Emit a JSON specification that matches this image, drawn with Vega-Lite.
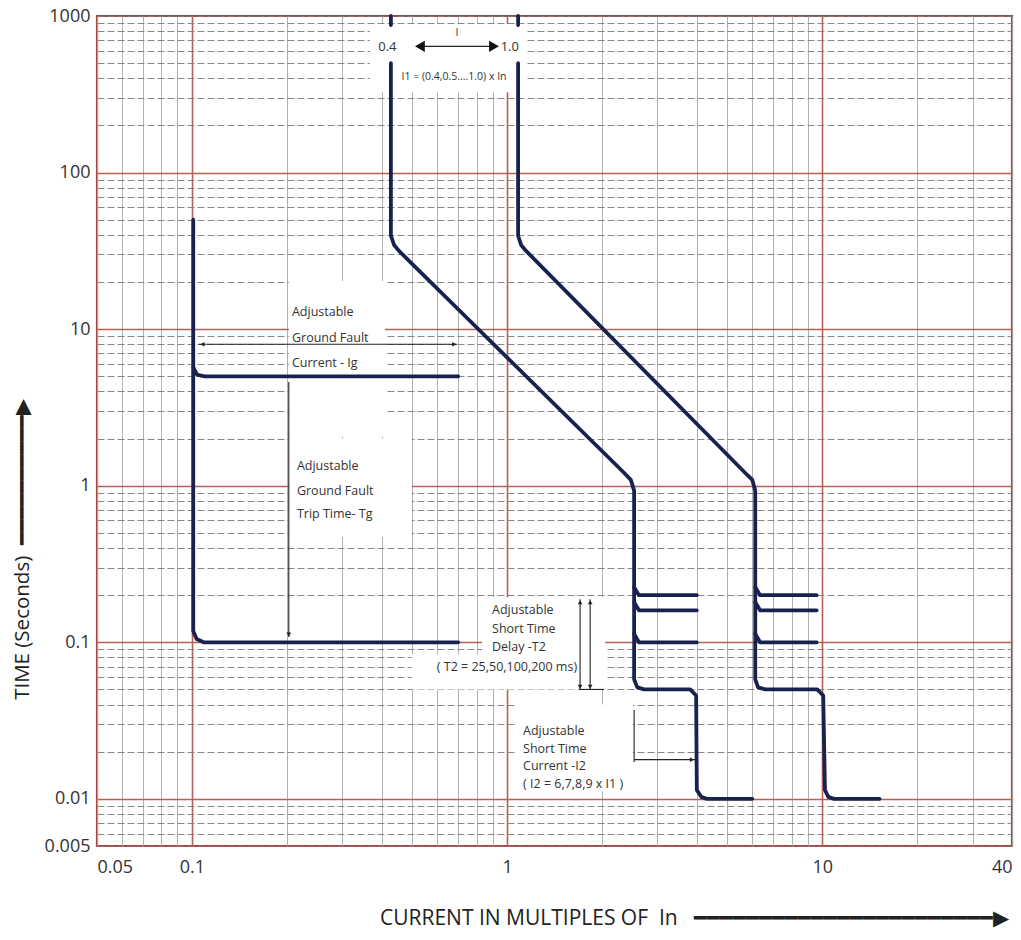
{
  "$schema": "https://vega.github.io/schema/vega-lite/v6.json",
  "width": 915,
  "height": 830,
  "autosize": "none",
  "padding": {"left": 97, "top": 16, "right": 9, "bottom": 94},
  "background": "white",
  "config": {
    "view": {"stroke": "#a8463f", "strokeWidth": 2.2},
    "text": {"font": "Open Sans", "color": "#333333"}
  },
  "datasets": {
    "boxes": [
      {"x": 0.367, "x2": 1.149, "y": 889, "y2": 326},
      {"x": 0.203, "x2": 0.41, "y": 20.3, "y2": 2.06},
      {"x": 0.203, "x2": 0.499, "y": 2.0, "y2": 0.471},
      {"x": 0.833, "x2": 2.047, "y": 0.194, "y2": 0.0838},
      {"x": 0.499, "x2": 2.047, "y": 0.0838, "y2": 0.05},
      {"x": 1.076, "x2": 2.51, "y": 0.0401, "y2": 0.0111}
    ],
    "curves": [
      {"id": "A0", "i": 1, "x": 0.428, "y": 1000},
      {"id": "A0", "i": 2, "x": 0.428, "y": 876},
      {"id": "A", "i": 1, "x": 0.428, "y": 500},
      {"id": "A", "i": 2, "x": 0.428, "y": 39.5},
      {"id": "A", "i": 3, "x": 0.438, "y": 34.5},
      {"id": "A", "i": 4, "x": 0.454, "y": 31.6},
      {"id": "A", "i": 5, "x": 2.35, "y": 1.21},
      {"id": "A", "i": 6, "x": 2.47, "y": 1.09},
      {"id": "A", "i": 7, "x": 2.53, "y": 0.93},
      {"id": "A", "i": 8, "x": 2.53, "y": 0.058},
      {"id": "A", "i": 9, "x": 2.59, "y": 0.0515},
      {"id": "A", "i": 10, "x": 2.72, "y": 0.05},
      {"id": "A", "i": 11, "x": 3.81, "y": 0.05},
      {"id": "A", "i": 12, "x": 3.98, "y": 0.0457},
      {"id": "A", "i": 13, "x": 4.0, "y": 0.0114},
      {"id": "A", "i": 14, "x": 4.13, "y": 0.0103},
      {"id": "A", "i": 15, "x": 4.31, "y": 0.01},
      {"id": "A", "i": 16, "x": 6.0, "y": 0.01},
      {"id": "A200", "i": 1, "x": 2.53, "y": 0.225},
      {"id": "A200", "i": 2, "x": 2.62, "y": 0.2},
      {"id": "A200", "i": 3, "x": 4.0, "y": 0.2},
      {"id": "A160", "i": 1, "x": 2.53, "y": 0.18},
      {"id": "A160", "i": 2, "x": 2.62, "y": 0.16},
      {"id": "A160", "i": 3, "x": 4.0, "y": 0.16},
      {"id": "A100", "i": 1, "x": 2.53, "y": 0.113},
      {"id": "A100", "i": 2, "x": 2.62, "y": 0.1},
      {"id": "A100", "i": 3, "x": 4.0, "y": 0.1},
      {"id": "B0", "i": 1, "x": 1.084, "y": 1000},
      {"id": "B0", "i": 2, "x": 1.084, "y": 876},
      {"id": "B", "i": 1, "x": 1.084, "y": 500},
      {"id": "B", "i": 2, "x": 1.084, "y": 39.5},
      {"id": "B", "i": 3, "x": 1.108, "y": 34.5},
      {"id": "B", "i": 4, "x": 1.149, "y": 31.6},
      {"id": "B", "i": 5, "x": 5.69, "y": 1.21},
      {"id": "B", "i": 6, "x": 6.0, "y": 1.09},
      {"id": "B", "i": 7, "x": 6.13, "y": 0.93},
      {"id": "B", "i": 8, "x": 6.13, "y": 0.058},
      {"id": "B", "i": 9, "x": 6.26, "y": 0.0515},
      {"id": "B", "i": 10, "x": 6.59, "y": 0.05},
      {"id": "B", "i": 11, "x": 9.64, "y": 0.05},
      {"id": "B", "i": 12, "x": 10.07, "y": 0.0457},
      {"id": "B", "i": 13, "x": 10.2, "y": 0.0114},
      {"id": "B", "i": 14, "x": 10.45, "y": 0.0103},
      {"id": "B", "i": 15, "x": 10.9, "y": 0.01},
      {"id": "B", "i": 16, "x": 15.2, "y": 0.01},
      {"id": "B200", "i": 1, "x": 6.13, "y": 0.225},
      {"id": "B200", "i": 2, "x": 6.35, "y": 0.2},
      {"id": "B200", "i": 3, "x": 9.6, "y": 0.2},
      {"id": "B160", "i": 1, "x": 6.13, "y": 0.18},
      {"id": "B160", "i": 2, "x": 6.35, "y": 0.16},
      {"id": "B160", "i": 3, "x": 9.6, "y": 0.16},
      {"id": "B100", "i": 1, "x": 6.13, "y": 0.113},
      {"id": "B100", "i": 2, "x": 6.35, "y": 0.1},
      {"id": "B100", "i": 3, "x": 9.6, "y": 0.1},
      {"id": "G", "i": 1, "x": 0.101, "y": 50},
      {"id": "G", "i": 2, "x": 0.101, "y": 0.118},
      {"id": "G", "i": 3, "x": 0.1035, "y": 0.105},
      {"id": "G", "i": 4, "x": 0.109, "y": 0.1},
      {"id": "G", "i": 5, "x": 0.7, "y": 0.1},
      {"id": "G5", "i": 1, "x": 0.101, "y": 5.7},
      {"id": "G5", "i": 2, "x": 0.104, "y": 5.1},
      {"id": "G5", "i": 3, "x": 0.11, "y": 5.0},
      {"id": "G5", "i": 4, "x": 0.7, "y": 5.0}
    ],
    "ann": [
      {"id": "top", "i": 1, "x": 0.529, "y": 640},
      {"id": "top", "i": 2, "x": 0.909, "y": 640},
      {"id": "ig", "i": 1, "x": 0.105, "y": 8},
      {"id": "ig", "i": 2, "x": 0.694, "y": 8},
      {"id": "tg", "i": 1, "x": 0.203, "y": 4.6},
      {"id": "tg", "i": 2, "x": 0.203, "y": 0.108},
      {"id": "t2a", "i": 1, "x": 1.705, "y": 0.188},
      {"id": "t2a", "i": 2, "x": 1.705, "y": 0.05},
      {"id": "t2b", "i": 1, "x": 1.835, "y": 0.188},
      {"id": "t2b", "i": 2, "x": 1.835, "y": 0.05},
      {"id": "t2base", "i": 1, "x": 1.69, "y": 0.05},
      {"id": "t2base", "i": 2, "x": 2.03, "y": 0.05},
      {"id": "i2v", "i": 1, "x": 2.53, "y": 0.037},
      {"id": "i2v", "i": 2, "x": 2.53, "y": 0.0172},
      {"id": "i2h", "i": 1, "x": 2.53, "y": 0.0178},
      {"id": "i2h", "i": 2, "x": 3.95, "y": 0.0178}
    ],
    "bigHeads": [
      {"x": 0.529, "y": 640, "dir": "left"},
      {"x": 0.909, "y": 640, "dir": "right"}
    ],
    "heads": [
      {"x": 0.108, "y": 8, "dir": "left"},
      {"x": 0.68, "y": 8, "dir": "right"},
      {"x": 0.203, "y": 0.112, "dir": "down"},
      {"x": 1.705, "y": 0.18, "dir": "up"},
      {"x": 1.705, "y": 0.052, "dir": "down"},
      {"x": 1.835, "y": 0.18, "dir": "up"},
      {"x": 1.835, "y": 0.052, "dir": "down"},
      {"x": 3.86, "y": 0.0178, "dir": "right"}
    ],
    "textLeft": [
      {"t": "Adjustable", "x": 0.2077, "y": 12.85},
      {"t": "Ground Fault", "x": 0.2077, "y": 8.76},
      {"t": "Current - Ig", "x": 0.2077, "y": 6.05},
      {"t": "Adjustable", "x": 0.2154, "y": 1.344},
      {"t": "Ground Fault", "x": 0.2154, "y": 0.929},
      {"t": "Trip Time- Tg", "x": 0.2154, "y": 0.662},
      {"t": "Adjustable", "x": 0.896, "y": 0.16},
      {"t": "Short Time", "x": 0.896, "y": 0.121},
      {"t": "Delay -T2", "x": 0.896, "y": 0.0929},
      {"t": "Adjustable", "x": 1.124, "y": 0.0273},
      {"t": "Short Time", "x": 1.124, "y": 0.0209},
      {"t": "Current -I2", "x": 1.124, "y": 0.0163},
      {"t": "( I2 = 6,7,8,9 x I1 )", "x": 1.124, "y": 0.01248}
    ],
    "textRight": [
      {"t": "( T2 = 25,50,100,200 ms)", "x": 1.668, "y": 0.0691}
    ],
    "textTop": [
      {"t": "0.4", "x": 0.417, "y": 633},
      {"t": "1.0", "x": 1.02, "y": 633}
    ],
    "textSmall": [
      {"t": "I", "x": 0.694, "y": 778},
      {"t": "I1 = (0.4,0.5....1.0) x In", "x": 0.679, "y": 406}
    ]
  },
  "layer": [
    {
      "data": {"name": "boxes"},
      "mark": {"type": "rect", "fill": "white", "stroke": null},
      "encoding": {
        "x": {
          "field": "x", "type": "quantitative",
          "scale": {"type": "log", "domain": [0.05, 40], "nice": false},
          "axis": {
            "values": [0.05, 0.06, 0.07, 0.08, 0.09, 0.1, 0.2, 0.3, 0.4, 0.5, 0.6, 0.7, 0.8, 0.9, 1, 2, 3, 4, 5, 6, 7, 8, 9, 10, 20, 30, 40],
            "labelExpr": "indexof([0.05, 0.1, 1, 10, 40], datum.value) >= 0 ? format(datum.value, '~g') : ''",
            "ticks": false,
            "domain": false,
            "labelFlush": true,
            "labelOverlap": false,
            "labelBound": false,
            "labelPadding": 12,
            "labelFont": "Open Sans",
            "labelFontSize": 18,
            "labelColor": "#333333",
            "gridColor": {"condition": {"test": "indexof([0.1, 1, 10], datum.value) >= 0", "value": "#b85f58"}, "value": "#a8a8a8"},
            "gridWidth": {"condition": {"test": "indexof([0.1, 1, 10], datum.value) >= 0", "value": 1.6}, "value": 0.9},
            "gridOpacity": 1,
            "title": "CURRENT IN MULTIPLES OF\u00a0\u00a0In\u00a0\u00a0\u00a0━━━━━━━━━━━━━━━━━━━━━━━▶",
            "titleFont": "Open Sans",
            "titleFontSize": 21,
            "titleFontWeight": "normal",
            "titleColor": "#222222",
            "titleX": 597,
            "titleY": 72,
            "titleAlign": "center",
            "titleBaseline": "middle"
          }
        },
        "x2": {"field": "x2"},
        "y": {
          "field": "y", "type": "quantitative",
          "scale": {"type": "log", "domain": [0.005, 1000], "nice": false},
          "axis": {
            "values": [0.005, 0.006, 0.007, 0.008, 0.009, 0.01, 0.02, 0.03, 0.04, 0.05, 0.06, 0.07, 0.08, 0.09, 0.1, 0.2, 0.3, 0.4, 0.5, 0.6, 0.7, 0.8, 0.9, 1, 2, 3, 4, 5, 6, 7, 8, 9, 10, 20, 30, 40, 50, 60, 70, 80, 90, 100, 200, 300, 400, 500, 600, 700, 800, 900, 1000],
            "labelExpr": "indexof([0.005, 0.01, 0.1, 1, 10, 100, 1000], datum.value) >= 0 ? format(datum.value, '~g') : ''",
            "ticks": false,
            "domain": false,
            "labelOverlap": false,
            "labelBound": false,
            "labelPadding": 7,
            "labelFont": "Open Sans",
            "labelFontSize": 18,
            "labelColor": "#333333",
            "gridColor": {"condition": {"test": "indexof([0.01, 0.1, 1, 10, 100], datum.value) >= 0", "value": "#b85f58"}, "value": "#7a7a7a"},
            "gridWidth": {"condition": {"test": "indexof([0.01, 0.1, 1, 10, 100], datum.value) >= 0", "value": 1.6}, "value": 0.9},
            "gridDash": {"condition": {"test": "indexof([0.01, 0.1, 1, 10, 100], datum.value) >= 0", "value": []}, "value": [7, 3]},
            "gridOpacity": 1,
            "title": "TIME (Seconds)\u00a0\u00a0━━━━━━━━━━▶",
            "titleFont": "Open Sans",
            "titleFontSize": 20.5,
            "titleFontWeight": "normal",
            "titleColor": "#222222",
            "titleX": -75,
            "titleY": 533,
            "titleAlign": "center",
            "titleBaseline": "middle"
          }
        },
        "y2": {"field": "y2"}
      }
    },
    {
      "data": {"name": "curves"},
      "mark": {"type": "line", "color": "#17224f", "strokeWidth": 3.8, "strokeCap": "round", "strokeJoin": "round"},
      "encoding": {
        "x": {"field": "x", "type": "quantitative"},
        "y": {"field": "y", "type": "quantitative"},
        "detail": {"field": "id"},
        "order": {"field": "i", "type": "quantitative"}
      }
    },
    {
      "data": {"name": "ann"},
      "mark": {"type": "line", "color": "#222222", "strokeWidth": 1.1},
      "encoding": {
        "x": {"field": "x", "type": "quantitative"},
        "y": {"field": "y", "type": "quantitative"},
        "detail": {"field": "id"},
        "order": {"field": "i", "type": "quantitative"}
      }
    },
    {
      "data": {"name": "bigHeads"},
      "mark": {"type": "point", "filled": true, "color": "#111111", "opacity": 1, "size": 130},
      "encoding": {
        "x": {"field": "x", "type": "quantitative"},
        "y": {"field": "y", "type": "quantitative"},
        "shape": {"field": "dir", "type": "nominal", "legend": null,
          "scale": {"domain": ["left", "right", "up", "down"], "range": ["triangle-left", "triangle-right", "triangle-up", "triangle-down"]}}
      }
    },
    {
      "data": {"name": "heads"},
      "mark": {"type": "point", "filled": true, "color": "#222222", "opacity": 1, "size": 22},
      "encoding": {
        "x": {"field": "x", "type": "quantitative"},
        "y": {"field": "y", "type": "quantitative"},
        "shape": {"field": "dir", "type": "nominal", "legend": null}
      }
    },
    {
      "data": {"name": "textLeft"},
      "mark": {"type": "text", "align": "left", "baseline": "middle", "fontSize": 12.5},
      "encoding": {
        "x": {"field": "x", "type": "quantitative"},
        "y": {"field": "y", "type": "quantitative"},
        "text": {"field": "t"}
      }
    },
    {
      "data": {"name": "textRight"},
      "mark": {"type": "text", "align": "right", "baseline": "middle", "fontSize": 12.5},
      "encoding": {
        "x": {"field": "x", "type": "quantitative"},
        "y": {"field": "y", "type": "quantitative"},
        "text": {"field": "t"}
      }
    },
    {
      "data": {"name": "textTop"},
      "mark": {"type": "text", "align": "center", "baseline": "middle", "fontSize": 13},
      "encoding": {
        "x": {"field": "x", "type": "quantitative"},
        "y": {"field": "y", "type": "quantitative"},
        "text": {"field": "t"}
      }
    },
    {
      "data": {"name": "textSmall"},
      "mark": {"type": "text", "align": "center", "baseline": "middle", "fontSize": 10.5},
      "encoding": {
        "x": {"field": "x", "type": "quantitative"},
        "y": {"field": "y", "type": "quantitative"},
        "text": {"field": "t"}
      }
    }
  ]
}
